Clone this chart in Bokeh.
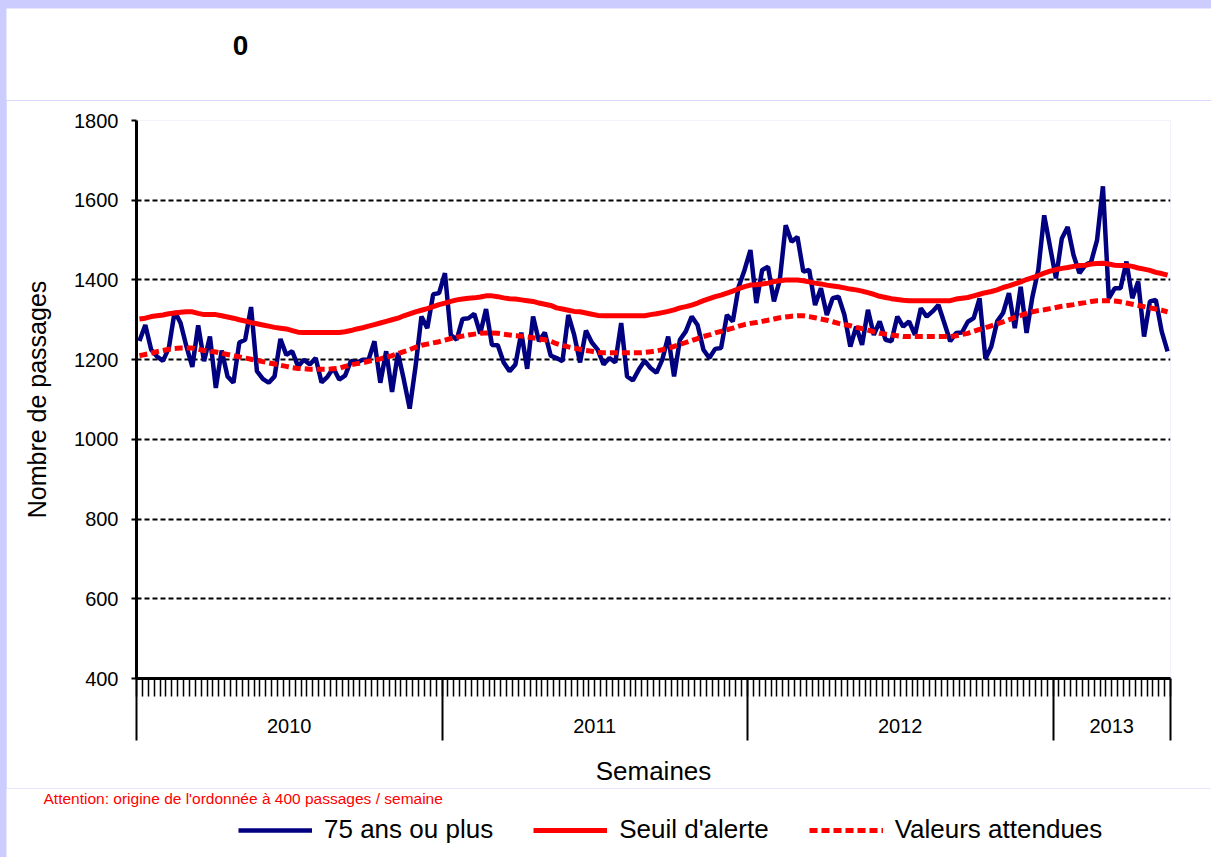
import numpy as np
from bokeh.plotting import figure
from bokeh.layouts import column
from bokeh.models import (Range1d, FixedTicker, Label, Legend, LegendItem, LinearAxis,
                          CustomJSTickFormatter, ColumnDataSource)
from bokeh.embed import file_html
from bokeh.resources import INLINE

# ---------------- data ----------------
title_text = "0"
x_title = "Semaines"
y_title = "Nombre de passages"
note_text = "Attention: origine de l'ordonnée à 400 passages / semaine"
series_names = ["75 ans ou plus", "Seuil d'alerte", "Valeurs attendues"]
year_labels = ["2010", "2011", "2012", "2013"]
year_weeks = [52, 52, 52, 20]
y_ticks = [400, 600, 800, 1000, 1200, 1400, 1600, 1800]

passages_75 = [
    1247, 1287, 1225, 1208, 1197, 1229, 1321, 1292, 1233, 1182,
    1286, 1196, 1258, 1129, 1223, 1158, 1142, 1243, 1250, 1332,
    1171, 1152, 1142, 1158, 1252, 1212, 1221, 1183, 1200, 1188,
    1204, 1143, 1157, 1179, 1150, 1160, 1197, 1192, 1200, 1200,
    1246, 1142, 1221, 1119, 1217, 1150, 1077, 1183, 1308, 1279,
    1364, 1367, 1417, 1262, 1250, 1302, 1304, 1315, 1265, 1327,
    1237, 1236, 1193, 1171, 1188, 1268, 1177, 1308, 1246, 1268,
    1210, 1204, 1196, 1312, 1262, 1193, 1273, 1243, 1225, 1188,
    1204, 1193, 1292, 1158, 1148, 1175, 1197, 1179, 1167, 1200,
    1258, 1158, 1250, 1271, 1308, 1287, 1225, 1204, 1227, 1229,
    1312, 1296, 1383, 1425, 1475, 1342, 1425, 1433, 1346, 1400,
    1537, 1496, 1508, 1421, 1425, 1337, 1379, 1312, 1354, 1358,
    1312, 1233, 1283, 1237, 1325, 1262, 1296, 1250, 1246, 1308,
    1283, 1296, 1262, 1329, 1308, 1321, 1337, 1292, 1246, 1267,
    1268, 1295, 1304, 1354, 1202, 1233, 1296, 1317, 1367, 1279,
    1383, 1267, 1358, 1425, 1562, 1483, 1404, 1504, 1533, 1462,
    1417, 1437, 1446, 1500, 1635, 1354, 1379, 1379, 1446, 1354,
    1396, 1258, 1346, 1350, 1271, 1221,
]

seuil_alerte = [
    1302, 1304, 1308, 1310, 1312, 1315, 1317, 1319, 1320, 1320,
    1316, 1313, 1313, 1313, 1310, 1307, 1304, 1300, 1297, 1293,
    1290, 1287, 1284, 1281, 1279, 1277, 1273, 1269, 1268, 1268,
    1268, 1268, 1268, 1268, 1268, 1270, 1273, 1277, 1280, 1284,
    1288, 1292, 1296, 1300, 1304, 1310, 1315, 1320, 1324, 1328,
    1333, 1338, 1342, 1346, 1350, 1352, 1354, 1355, 1357, 1360,
    1360, 1358, 1355, 1353, 1352, 1350, 1348, 1346, 1342, 1339,
    1336, 1330, 1327, 1324, 1321, 1320, 1317, 1314, 1311, 1310,
    1310, 1310, 1310, 1310, 1310, 1310, 1310, 1313, 1315, 1318,
    1321, 1325, 1330, 1333, 1337, 1342, 1348, 1353, 1358, 1362,
    1367, 1372, 1378, 1383, 1387, 1388, 1390, 1392, 1396, 1398,
    1400, 1400, 1400, 1398, 1395, 1392, 1390, 1387, 1385, 1383,
    1380, 1377, 1375, 1372, 1368, 1364, 1359, 1356, 1353, 1351,
    1349, 1348, 1348, 1348, 1348, 1348, 1348, 1348, 1348, 1352,
    1354, 1356, 1360, 1364, 1368, 1371, 1375, 1381, 1385, 1390,
    1395, 1401, 1406, 1411, 1417, 1422, 1426, 1429, 1431, 1434,
    1436, 1437, 1440, 1441, 1442, 1440, 1437, 1436, 1436, 1434,
    1430, 1427, 1424, 1419, 1416, 1412,
]

valeurs_attendues = [
    1210, 1213, 1216, 1220, 1223, 1226, 1228, 1229, 1229, 1229,
    1226, 1223, 1221, 1219, 1216, 1213, 1210, 1207, 1204, 1201,
    1198, 1195, 1192, 1189, 1186, 1183, 1180, 1178, 1177, 1176,
    1176, 1176, 1176, 1177, 1178, 1183, 1187, 1190, 1192, 1196,
    1199, 1202, 1206, 1210, 1215, 1220, 1225, 1231, 1236, 1239,
    1242, 1245, 1249, 1253, 1256, 1259, 1262, 1264, 1266, 1267,
    1267, 1266, 1264, 1262, 1260, 1259, 1257, 1255, 1252, 1250,
    1246, 1240, 1236, 1232, 1229, 1226, 1223, 1221, 1218, 1217,
    1217, 1217, 1217, 1217, 1217, 1217, 1218, 1220, 1222, 1225,
    1229, 1233, 1238, 1243, 1248, 1253, 1258, 1262, 1267, 1271,
    1275, 1279, 1284, 1288, 1291, 1293, 1296, 1299, 1302, 1305,
    1307, 1309, 1310, 1310, 1308, 1305, 1302, 1299, 1295, 1291,
    1288, 1285, 1281, 1278, 1274, 1270, 1266, 1264, 1262, 1260,
    1258, 1258, 1258, 1258, 1258, 1258, 1258, 1258, 1258, 1260,
    1263, 1266, 1271, 1276, 1280, 1285, 1290, 1295, 1300, 1306,
    1311, 1316, 1320, 1323, 1325, 1328, 1331, 1334, 1336, 1338,
    1341, 1343, 1346, 1348, 1348, 1348, 1347, 1345, 1342, 1339,
    1336, 1333, 1330, 1327, 1324, 1320,
]

# ---------------- layout constants (page pixels) ----------------
FONT = "Liberation Sans"
PAGE_X0, PAGE_Y0 = 6, 8            # where the layout starts on the page
PAGE_W, PAGE_H = 1211, 857
TOP_SPLIT = 100                    # page y where the main chart strip starts
SPLIT_Y = 788                      # page y where the note/legend strip starts
FIG_W = PAGE_W - PAGE_X0
FRAME_L, FRAME_R = 136, 1170       # page x of plot area
Y1800_PAGE, Y400_PAGE = 120, 679   # page y of the 1800 and 400 gridlines

n = len(passages_75)
weeks = list(range(n))
xpos = [w + 0.5 for w in weeks]
src = ColumnDataSource(dict(x=xpos, obs=passages_75, seuil=seuil_alerte,
                            att=valeurs_attendues))


def strip(height):
    f = figure(width=FIG_W, height=height, output_backend="svg", toolbar_location=None,
               x_range=Range1d(0, 1), y_range=Range1d(0, 1),
               x_axis_type=None, y_axis_type=None,
               min_border_left=0, min_border_right=0, min_border_top=0,
               min_border_bottom=0)
    f.frame_align = False
    f.title.visible = False
    f.outline_line_color = None
    f.xgrid.visible = False
    f.ygrid.visible = False
    f.background_fill_color = "white"
    f.border_fill_color = "white"
    return f


# ---------------- title strip ----------------
p0 = strip(TOP_SPLIT - PAGE_Y0)
p0.add_layout(Label(x=240 - PAGE_X0, y=TOP_SPLIT - 45, x_units="screen", y_units="screen",
                    text=title_text, text_font=FONT, text_font_style="bold",
                    text_font_size="28px", text_align="center",
                    text_baseline="middle", text_color="black"))

# ---------------- main chart ----------------
p = figure(width=FIG_W, height=SPLIT_Y - TOP_SPLIT, output_backend="svg",
           toolbar_location=None,
           x_range=Range1d(0, n), y_range=Range1d(y_ticks[0], y_ticks[-1]),
           min_border_left=FRAME_L - PAGE_X0, min_border_right=PAGE_W - FRAME_R,
           min_border_top=Y1800_PAGE - TOP_SPLIT, min_border_bottom=SPLIT_Y - Y400_PAGE)
p.frame_align = False
p.title.visible = False
p.outline_line_color = None
p.background_fill_color = "white"
p.border_fill_color = "white"

# grid
p.xgrid.visible = False
p.ygrid.ticker = FixedTicker(ticks=y_ticks[1:])
p.ygrid.grid_line_color = "black"
p.ygrid.grid_line_width = 2
p.ygrid.grid_line_dash = "5 3"

# y axis
yax = p.yaxis[0]
yax.ticker = FixedTicker(ticks=y_ticks)
yax.axis_line_width = 3
yax.axis_line_color = "black"
yax.major_tick_out = 5
yax.major_tick_in = 0
yax.major_tick_line_width = 2
yax.minor_tick_line_color = None
yax.major_label_text_font = FONT
yax.major_label_text_font_size = "20px"
yax.major_label_text_color = "black"
yax.major_label_standoff = 13
yax.axis_label = y_title
yax.axis_label_text_font = FONT
yax.axis_label_text_font_size = "25px"
yax.axis_label_text_font_style = "normal"
yax.axis_label_text_color = "black"
yax.axis_label_standoff = 20

# x axis: weekly comb + year separators
bounds = [int(b) for b in np.cumsum([0] + year_weeks)]
xax = p.xaxis[0]
xax.ticker = FixedTicker(ticks=bounds, minor_ticks=list(range(n + 1)))
xax.formatter = CustomJSTickFormatter(code="return ''")
xax.major_label_text_font_size = "1px"
xax.major_label_standoff = 0
xax.axis_line_width = 3
xax.axis_line_color = "black"
xax.major_tick_out = 62
xax.major_tick_in = 0
xax.major_tick_line_width = 2
xax.minor_tick_out = 18
xax.minor_tick_in = 0
xax.minor_tick_line_width = 1.5
xax.minor_tick_line_color = "black"

# second x axis: year labels between separators + axis title
year_centers = [int(s + w // 2) for s, w in zip(bounds[:-1], year_weeks)]
ax_years = LinearAxis(ticker=FixedTicker(ticks=year_centers),
                      major_label_overrides={c: lab for c, lab in zip(year_centers, year_labels)},
                      axis_line_color=None, major_tick_line_color=None,
                      minor_tick_line_color=None, major_tick_out=0, major_tick_in=0,
                      minor_tick_out=0, minor_tick_in=0,
                      major_label_standoff=-22, major_label_text_font=FONT,
                      major_label_text_font_size="20px", major_label_text_color="black",
                      axis_label=x_title, axis_label_standoff=20,
                      axis_label_text_font=FONT, axis_label_text_font_size="26px",
                      axis_label_text_font_style="normal", axis_label_text_color="black")
p.add_layout(ax_years, "below")

# series
r_obs = p.line("x", "obs", source=src, line_color="#000080", line_width=4.5)
r_seuil = p.line("x", "seuil", source=src, line_color="#FF0000", line_width=5)
r_att = p.line("x", "att", source=src, line_color="#FF0000", line_width=5,
               line_dash="8 4")

# ---------------- bottom strip: note + legend ----------------
p2 = strip(PAGE_H - SPLIT_Y)
# legend samples share the series styles (data lie outside this strip's range)
l_obs = p2.line("x", "obs", source=src, line_color="#000080", line_width=4.5)
l_seuil = p2.line("x", "seuil", source=src, line_color="#FF0000", line_width=5)
l_att = p2.line("x", "att", source=src, line_color="#FF0000", line_width=5,
                line_dash="8 4")

p2.add_layout(Label(x=43 - PAGE_X0, y=PAGE_H - 798, x_units="screen", y_units="screen",
                    text=note_text, text_font=FONT, text_font_size="15.5px",
                    text_align="left", text_baseline="middle", text_color="#FF0000"))

legend = Legend(items=[LegendItem(label=series_names[0], renderers=[l_obs]),
                       LegendItem(label=series_names[1], renderers=[l_seuil]),
                       LegendItem(label=series_names[2], renderers=[l_att])],
                orientation="horizontal", location=(238 - PAGE_X0, 12),
                padding=0, margin=0, spacing=40, glyph_width=74, glyph_height=26,
                label_standoff=12, label_text_font=FONT,
                label_text_font_size="26px", label_text_color="black",
                border_line_color=None, background_fill_alpha=0)
p2.add_layout(legend)

layout = column(p0, p, p2, spacing=0)

html = file_html(layout, INLINE, title="chart")
html = html.replace(
    "</head>",
    "<style>html,body{margin:0 !important;background:#CCCCFF !important;"
    "overflow:hidden !important;}body{padding:%dpx 0 0 %dpx !important;}</style></head>"
    % (PAGE_Y0, PAGE_X0), 1)
open("out.html", "w").write(html)
